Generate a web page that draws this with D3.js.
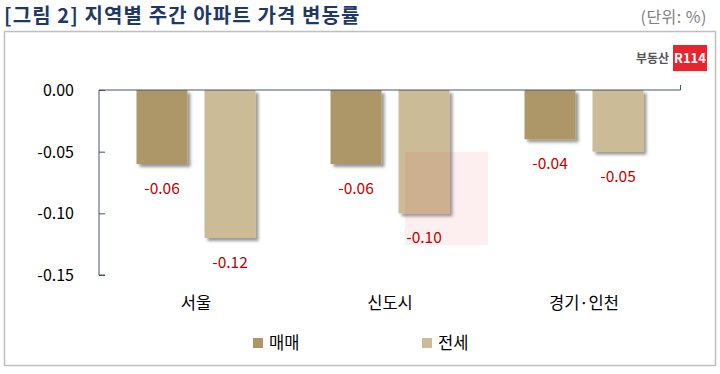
<!DOCTYPE html>
<head>
<meta charset="utf-8">
<script src="https://d3js.org/d3.v7.min.js"></script>
</head>
<style>
body { margin: 0; background: #fff; }
text { font-family: "Noto Sans CJK KR", "Noto Sans", sans-serif; }
</style>
<body>
<script>
var categories = ["서울", "신도시", "경기·인천"];
var seriesNames = ["매매", "전세"];
var maemae = [-0.06, -0.06, -0.04];
var jeonse = [-0.12, -0.10, -0.05];
var yTicks = [0, -0.05, -0.10, -0.15];
var colors = ["#ad9768", "#cbbb96"];

var fmt = function(v) { return d3.format(".2f")(v).replace("\u2212", "-"); };

var W = 720, H = 374;
var svg = d3.select("body").append("svg")
    .attr("width", W).attr("height", H);

var defs = svg.append("defs");
var f = defs.append("filter").attr("id", "shadow")
    .attr("x", "-20%").attr("y", "-20%").attr("width", "150%").attr("height", "150%");
f.append("feDropShadow").attr("dx", 3).attr("dy", 3).attr("stdDeviation", 1.6)
    .attr("flood-color", "#000").attr("flood-opacity", 0.4);

// title + unit
svg.append("text").attr("x", 4).attr("y", 23)
    .attr("font-size", 20).attr("font-weight", "bold").attr("fill", "#1f3864")
    .attr("letter-spacing", 1.1)
    .text("[그림 2] 지역별 주간 아파트 가격 변동률");
svg.append("text").attr("x", 707).attr("y", 23).attr("text-anchor", "end")
    .attr("font-size", 16).attr("fill", "#808080").attr("letter-spacing", 0.5).text("(단위: %)");

// frame
svg.append("rect").attr("x", 4.5).attr("y", 31.5).attr("width", 711).attr("height", 334)
    .attr("fill", "none").attr("stroke", "#bfbfbf").attr("stroke-width", 1.5);

// logo
svg.append("text").attr("x", 669).attr("y", 63).attr("text-anchor", "end")
    .attr("font-size", 12).attr("font-weight", "bold").attr("fill", "#555").text("부동산");
svg.append("rect").attr("x", 673).attr("y", 45).attr("width", 34).attr("height", 26)
    .attr("fill", "#e8242f");
svg.append("text").attr("x", 690).attr("y", 63).attr("text-anchor", "middle")
    .attr("font-size", 13).attr("font-weight", "bold").attr("fill", "#fff").text("R114");

var x = d3.scaleBand().domain(categories).range([99, 681]);
var y = d3.scaleLinear().domain([-0.15, 0]).range([275, 90]);

var data = categories.map(function(c, i) {
  return [{cat: c, s: 0, v: maemae[i]}, {cat: c, s: 1, v: jeonse[i]}];
}).flat();

var barW = 51, gap = 17;
function bx(d) {
  var c = x(d.cat) + x.bandwidth() / 2;
  return d.s === 0 ? c - gap / 2 - barW : c + gap / 2;
}

svg.selectAll(".bar").data(data).enter().append("rect")
    .attr("x", bx)
    .attr("y", y(0))
    .attr("width", barW)
    .attr("height", function(d) { return y(d.v) - y(0); })
    .attr("fill", function(d) { return colors[d.s]; })
    .attr("filter", "url(#shadow)");

// faint watermark box
svg.append("rect").attr("x", 405).attr("y", 152).attr("width", 83).attr("height", 93)
    .attr("fill", "#e8404a").attr("opacity", 0.09);

svg.selectAll(".lab").data(data).enter().append("text")
    .attr("x", function(d) { return bx(d) + barW / 2; })
    .attr("y", function(d) { return y(d.v) + 30; })
    .attr("text-anchor", "middle")
    .attr("font-size", 15.5).attr("fill", "#c00000")
    .text(function(d) { return fmt(d.v); });

// y axis
var yAxis = svg.append("g").attr("transform", "translate(99,0)")
    .call(d3.axisRight(y).tickValues(yTicks).tickSize(6).tickFormat(""));
yAxis.select(".domain").attr("stroke", "#44546a").attr("d", "M6,275H0V90");
yAxis.selectAll(".tick line").attr("stroke", "#44546a");
svg.selectAll(".ylab").data(yTicks).enter().append("text")
    .attr("x", 74).attr("y", function(d) { return y(d) + 6; })
    .attr("text-anchor", "end").attr("font-size", 16).attr("fill", "#000")
    .text(function(d) { return fmt(d); });

// zero line / x axis
var xAxis = svg.append("g").attr("transform", "translate(0," + y(0) + ")")
    .call(d3.axisTop(x).tickSize(0).tickFormat(""));
xAxis.select(".domain").attr("stroke", "#44546a").attr("d", "M99,0H680.5V-5");
svg.selectAll(".xlab").data(categories).enter().append("text")
    .attr("x", function(d) { return x(d) + x.bandwidth() / 2; })
    .attr("y", 309).attr("text-anchor", "middle")
    .attr("font-size", 16.5).attr("fill", "#000")
    .text(function(d) { return d; });

// legend
var legX = [253, 422];
seriesNames.forEach(function(n, i) {
  svg.append("rect").attr("x", legX[i]).attr("y", 338).attr("width", 10).attr("height", 10)
      .attr("fill", colors[i]);
  svg.append("text").attr("x", legX[i] + 16).attr("y", 349)
      .attr("font-size", 16.5).attr("fill", "#000").text(n);
});
</script>
</body>
